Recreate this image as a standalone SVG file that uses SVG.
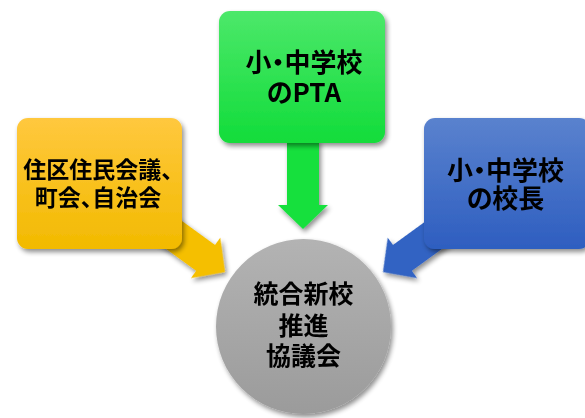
<svg xmlns="http://www.w3.org/2000/svg" width="585" height="418" viewBox="0 0 585 418">
<defs>
<linearGradient id="gY" x1="0" y1="0" x2="0" y2="1"><stop offset="0" stop-color="#FFC83E"/><stop offset="1" stop-color="#F2BA00"/></linearGradient>
<linearGradient id="gG" x1="0" y1="0" x2="0" y2="1"><stop offset="0" stop-color="#4CE86A"/><stop offset="1" stop-color="#12DC3A"/></linearGradient>
<linearGradient id="gB" x1="0" y1="0" x2="0" y2="1"><stop offset="0" stop-color="#5A82CE"/><stop offset="1" stop-color="#2E5EC0"/></linearGradient>
<linearGradient id="gC" x1="0" y1="0" x2="0" y2="1"><stop offset="0" stop-color="#B3B3B3"/><stop offset="1" stop-color="#9B9B9B"/></linearGradient>
<filter id="sh" x="-20%" y="-20%" width="150%" height="150%">
<feGaussianBlur in="SourceAlpha" stdDeviation="2.5"/>
<feOffset dx="2" dy="3" result="b"/>
<feComponentTransfer><feFuncA type="linear" slope="0.45"/></feComponentTransfer>
<feMerge><feMergeNode/><feMergeNode in="SourceGraphic"/></feMerge>
</filter>
<path id="arr" d="M-95,-16 L-24,-16 L-24,-25 L0,0 L-24,25 L-24,16 L-95,16 Z"/>
</defs>
<style>
text{font-family:"Noto Sans CJK JP","Noto Sans",sans-serif;fill:#000;text-anchor:middle;font-feature-settings:"palt";font-weight:700;}
.t{font-size:23px;}
.m{font-size:26px;}
.c{font-size:25px;font-weight:600;}
</style>
<g id="connectors" filter="url(#sh)">
<path d="M287,140 L319,140 L319,205 L328,205 L303,229 L278,205 L287,205 Z" fill="#16E03E"/>
<use href="#arr" transform="translate(225,272) rotate(36)" fill="#F5BF00"/>
<use href="#arr" transform="translate(383,272) rotate(144)" fill="#3263C3"/>
</g>
<g id="center" filter="url(#sh)">
<circle cx="303.5" cy="326.5" r="87.5" fill="url(#gC)"/>
</g>
<g id="center-text">
<text class="c" x="303.5" y="302.5">統合新校</text>
<text class="c" x="303.5" y="334.5">推進</text>
<text class="c" x="303.5" y="365">協議会</text>
</g>
<g id="yellow" filter="url(#sh)">
<rect x="17" y="118" width="165" height="131" rx="11" fill="url(#gY)"/>
</g>
<text class="t" x="98" y="178">住区住民会議、</text>
<text class="t" x="98" y="206">町会、自治会</text>
<g id="green" filter="url(#sh)">
<rect x="219" y="11" width="166" height="132" rx="11" fill="url(#gG)"/>
</g>
<text class="m" x="304" y="71.5">小・中学校</text>
<text class="m" x="304" y="102">のPTA</text>
<g id="blue" filter="url(#sh)">
<rect x="424" y="118" width="166" height="131" rx="11" fill="url(#gB)"/>
</g>
<text class="m" x="505.5" y="180">小・中学校</text>
<text class="m" x="505.5" y="207.5">の校長</text>
</svg>
